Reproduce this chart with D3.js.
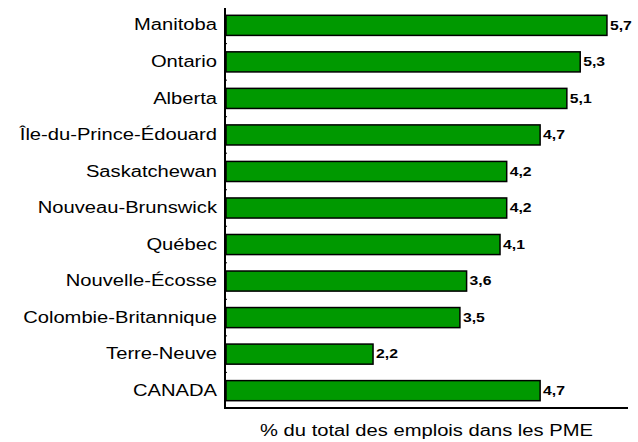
<!DOCTYPE html>
<html>
<head>
<meta charset="utf-8">
<script src="https://cdn.jsdelivr.net/npm/d3@7"></script>
<style>
  body { margin: 0; background: #fff; }
  svg { display: block; font-family: 'Liberation Sans', Arial, sans-serif; }
</style>
</head>
<body>
<div id="chart"></div>
<script>
// data
const provinces = ['Manitoba', 'Ontario', 'Alberta', 'Île-du-Prince-Édouard', 'Saskatchewan',
  'Nouveau-Brunswick', 'Québec', 'Nouvelle-Écosse', 'Colombie-Britannique', 'Terre-Neuve', 'CANADA'];
const shares = [5.7, 5.3, 5.1, 4.7, 4.2, 4.2, 4.1, 3.6, 3.5, 2.2, 4.7];
const axisTitle = '% du total des emplois dans les PME';

const width = 638, height = 442;
const margin = {top: 8, right: 11, bottom: 34, left: 226};
// the original text is drawn a little wider than normal
const stretch = 1.26;

const svg = d3.select('#chart').append('svg')
  .attr('width', width)
  .attr('height', height);

function widen(sel) {
  sel.each(function() {
    const w = this.getComputedTextLength();
    d3.select(this)
      .attr('textLength', w * stretch)
      .attr('lengthAdjust', 'spacingAndGlyphs');
  });
}

const x = d3.scaleLinear()
  .domain([0, 6])
  .range([margin.left, width - margin.right]);

const y = d3.scaleBand()
  .domain(provinces)
  .range([margin.top, height - margin.bottom])
  .paddingInner(0.45)
  .paddingOuter(0.2);

// bars
svg.append('g')
  .selectAll('rect')
  .data(provinces)
  .join('rect')
  .attr('x', x(0))
  .attr('y', d => y(d))
  .attr('width', (d, i) => x(shares[i]) - x(0))
  .attr('height', y.bandwidth())
  .attr('fill', '#009900')
  .attr('stroke', '#000')
  .attr('stroke-width', 1.5);

// value labels
svg.append('g')
  .selectAll('text')
  .data(provinces)
  .join('text')
  .attr('x', (d, i) => x(shares[i]) + 3)
  .attr('y', d => y(d) + y.bandwidth() / 2 + 1)
  .attr('dominant-baseline', 'middle')
  .style('font-size', '12.5px')
  .style('font-weight', 'bold')
  .text((d, i) => d3.format('.1f')(shares[i]).replace('.', ','))
  .call(widen);

// left axis
const yAxis = d3.axisLeft(y).tickSize(0).tickPadding(8);
const gy = svg.append('g')
  .attr('transform', `translate(${margin.left - 1},0)`)
  .call(yAxis);
gy.select('.domain').remove();
gy.selectAll('text')
  .style('font-size', '16px')
  .style('font-family', "'Liberation Sans', Arial, sans-serif")
  .attr('fill', '#000')
  .call(widen);

// axis lines
svg.append('line')
  .attr('x1', margin.left - 1).attr('x2', margin.left - 1)
  .attr('y1', margin.top).attr('y2', height - margin.bottom)
  .attr('stroke', '#000').attr('stroke-width', 2);
svg.append('line')
  .attr('x1', margin.left - 2).attr('x2', x.range()[1] + 1)
  .attr('y1', height - margin.bottom).attr('y2', height - margin.bottom)
  .attr('stroke', '#000').attr('stroke-width', 2);

// small separator ticks between categories
svg.append('g')
  .selectAll('line')
  .data(provinces.slice(1))
  .join('line')
  .attr('x1', margin.left - 1).attr('x2', margin.left + 1)
  .attr('y1', d => y(d) - y.step() * y.paddingInner() / 2)
  .attr('y2', d => y(d) - y.step() * y.paddingInner() / 2)
  .attr('stroke', '#000').attr('stroke-width', 1);

// axis title
svg.append('text')
  .attr('x', (x.range()[0] + x.range()[1]) / 2)
  .attr('y', height - 6)
  .attr('text-anchor', 'middle')
  .style('font-size', '16px')
  .text(axisTitle)
  .call(widen);
</script>
</body>
</html>
